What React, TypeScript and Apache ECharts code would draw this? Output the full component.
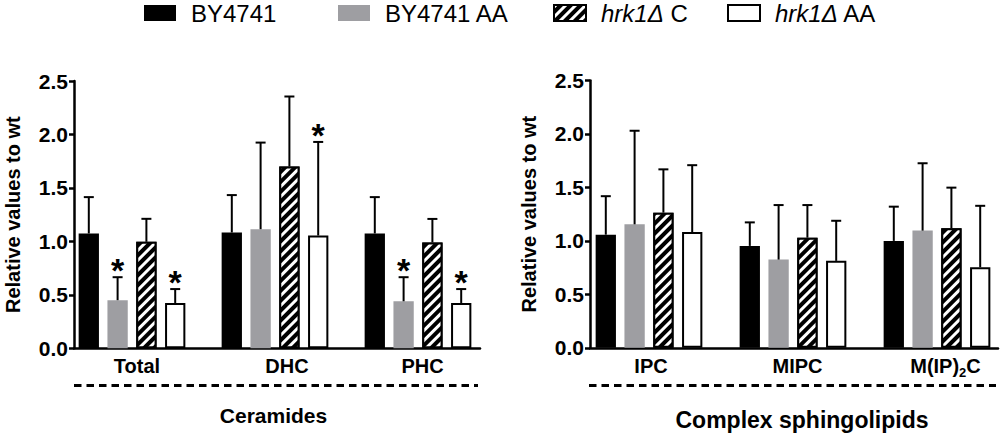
import React, { useEffect, useRef } from "react";
import * as echarts from "echarts";

// ---- data ----
const seriesNames = ["BY4741", "BY4741 AA", "hrk1Δ C", "hrk1Δ AA"];

const catsLeft = ["Total", "DHC", "PHC"];
const catsRight = ["IPC", "MIPC", "M(IP)2C"];

// Ceramides: means
const leftBY = [1.074, 1.083, 1.074];
const leftBYAA = [0.45, 1.114, 0.44];
const leftHrkC = [0.996, 1.7, 0.99];
const leftHrkAA = [0.424, 1.055, 0.424];
// Ceramides: SD (upper error)
const leftBYsd = [0.34, 0.35, 0.34];
const leftBYAAsd = [0.215, 0.81, 0.225];
const leftHrkCsd = [0.215, 0.655, 0.22];
const leftHrkAAsd = [0.13, 0.875, 0.13];
// significance stars
const leftBYstar = [0, 0, 0];
const leftBYAAstar = [1, 0, 1];
const leftHrkCstar = [0, 0, 0];
const leftHrkAAstar = [1, 1, 1];

// Complex sphingolipids: means
const rightBY = [1.058, 0.953, 1.0];
const rightBYAA = [1.155, 0.825, 1.096];
const rightHrkC = [1.264, 1.03, 1.118];
const rightHrkAA = [1.083, 0.813, 0.753];
// SD
const rightBYsd = [0.36, 0.22, 0.32];
const rightBYAAsd = [0.875, 0.51, 0.63];
const rightHrkCsd = [0.405, 0.305, 0.38];
const rightHrkAAsd = [0.625, 0.375, 0.575];
const rightStar = [0, 0, 0];

const yTicksMin = 0;
const yTicksMax = 2.5;
const yTicksStep = 0.5;

// ---- styles ----
const FONT = "'Liberation Sans', Arial, Helvetica, sans-serif";
const BAR_W = 20.3;
const GAP_PX = 8.5;
const GRAY = "#9e9ea2";
// small rightward shifts of category labels (px), as in the original figure
const labelShiftLeft = [5, 12, 4.5];
const labelShiftRight = [2, 4.5, 8.5];

const hatchDecal = {
  symbol: "rect",
  symbolSize: 1,
  color: "#ffffff",
  dashArrayX: [1, 0],
  dashArrayY: [2.8, 3.8],
  rotation: -Math.PI / 4,
};

const barStyles = [
  { color: "#000000", borderColor: "#000000", borderWidth: 0 },
  { color: GRAY, borderColor: GRAY, borderWidth: 0 },
  { color: "#000000", borderColor: "#000000", borderWidth: 2, decal: hatchDecal },
  { color: "#ffffff", borderColor: "#000000", borderWidth: 2 },
];

const legendLeft = [144, 338, 553, 727];

function errorSeries(
  xAxisIndex: number,
  yAxisIndex: number,
  means: number[][],
  sds: number[][],
  stars: number[][]
) {
  const data: number[][] = [];
  means.forEach((arr, k) => {
    arr.forEach((m, c) => {
      data.push([c, k, m, sds[k][c], stars[k][c]]);
    });
  });
  return {
    type: "custom",
    xAxisIndex,
    yAxisIndex,
    z: 5,
    clip: false,
    silent: true,
    encode: { x: 0, y: 2 },
    data,
    renderItem: (params: any, api: any) => {
      const cat = api.value(0);
      const k = api.value(1);
      const mean = api.value(2);
      const sd = api.value(3);
      const star = api.value(4);
      const p0 = api.coord([cat, mean]);
      const p1 = api.coord([cat, mean + sd]);
      const x = p0[0] + (k - 1.5) * (BAR_W + GAP_PX);
      const st = { stroke: "#000", lineWidth: 2 };
      const children: any[] = [
        { type: "line", shape: { x1: x, y1: p0[1], x2: x, y2: p1[1] }, style: st },
        { type: "line", shape: { x1: x - 5, y1: p1[1], x2: x + 5, y2: p1[1] }, style: st },
      ];
      if (star) {
        children.push({
          type: "text",
          x,
          y: p1[1] - 7,
          style: {
            text: "*",
            fontSize: 34,
            fontWeight: "bold",
            fontFamily: FONT,
            fill: "#000",
            align: "center",
            verticalAlign: "middle",
          },
        });
      }
      return { type: "group", children };
    },
  };
}

export default function App() {
  const ref = useRef<HTMLDivElement>(null);

  useEffect(() => {
    if (!ref.current) return;
    const chart = echarts.init(ref.current, null, { renderer: "svg" });

    const leftMeans = [leftBY, leftBYAA, leftHrkC, leftHrkAA];
    const leftSds = [leftBYsd, leftBYAAsd, leftHrkCsd, leftHrkAAsd];
    const leftStars = [leftBYstar, leftBYAAstar, leftHrkCstar, leftHrkAAstar];
    const rightMeans = [rightBY, rightBYAA, rightHrkC, rightHrkAA];
    const rightSds = [rightBYsd, rightBYAAsd, rightHrkCsd, rightHrkAAsd];
    const rightStars = [rightStar, rightStar, rightStar, rightStar];

    const barGap = ((GAP_PX / BAR_W) * 100).toFixed(1) + "%";

    const bars = (means: number[][], xi: number, yi: number) =>
      means.map((vals, k) => ({
        type: "bar",
        name: seriesNames[k],
        xAxisIndex: xi,
        yAxisIndex: yi,
        barWidth: BAR_W,
        barGap,
        data: vals,
        itemStyle: barStyles[k],
        silent: true,
      }));

    const labelStyle = { fontSize: 20, fontWeight: "bold", color: "#000", fontFamily: FONT };

    const hiddenCatAxis = (gridIndex: number, data: string[], shifts: number[]) => {
      const rich: any = {
        t: { ...labelStyle },
        sub: {
          fontSize: 13,
          fontWeight: "bold",
          color: "#000",
          fontFamily: FONT,
          verticalAlign: "top",
          padding: [10, 0, 0, 0],
          lineHeight: 13,
        },
      };
      shifts.forEach((s, i) => {
        rich["s" + i] = { ...labelStyle, width: s * 2 };
      });
      return {
        gridIndex,
        type: "category",
        data,
        axisLine: { show: false },
        axisTick: { show: false },
        axisLabel: {
          interval: 0,
          hideOverlap: false,
          ...labelStyle,
          margin: 8,
          formatter: (v: string, idx: number) => {
            const body = v === "M(IP)2C" ? "{t|M(IP)}{sub|2}{t|C}" : "{t|" + v + "}";
            return "{s" + idx + "| }" + body;
          },
          rich,
        },
        splitLine: { show: false },
      };
    };

    const lineCatAxis = (gridIndex: number, data: string[]) => ({
      gridIndex,
      type: "category",
      data,
      axisLine: { show: true, lineStyle: { color: "#000", width: 2.5 } },
      axisTick: { show: false },
      axisLabel: { show: false },
      splitLine: { show: false },
    });

    const hiddenValAxis = (gridIndex: number) => ({
      gridIndex,
      type: "value",
      min: yTicksMin,
      max: yTicksMax,
      interval: yTicksStep,
      show: false,
    });

    const valAxis = (gridIndex: number) => ({
      gridIndex,
      type: "value",
      min: yTicksMin,
      max: yTicksMax,
      interval: yTicksStep,
      axisLine: { show: true, lineStyle: { color: "#000", width: 2.5 } },
      axisTick: { show: true, length: 5, lineStyle: { color: "#000", width: 2.5 } },
      axisLabel: {
        fontSize: 21,
        fontWeight: "bold",
        color: "#000",
        fontFamily: FONT,
        margin: 6,
        padding: [6, 0, 0, 0],
        formatter: (v: number) => v.toFixed(1),
      },
      splitLine: { show: false },
      name: "Relative values to wt",
      nameLocation: "middle",
      nameGap: 51,
      nameTextStyle: {
        fontSize: 20,
        lineHeight: 20,
        fontWeight: "bold",
        color: "#000",
        fontFamily: FONT,
      },
    });

    const legends = seriesNames.map((name, i) => ({
      data: [name],
      left: legendLeft[i],
      top: 1,
      padding: 0,
      itemGap: 0,
      itemWidth: 32,
      itemHeight: 16,
      icon: "rect",
      selectedMode: false,
      formatter: (n: string) => (n.startsWith("hrk1Δ") ? "{i|hrk1Δ}" + n.slice(5) : n),
      textStyle: {
        fontSize: 24,
        color: "#000",
        fontFamily: FONT,
        padding: [0, 0, 0, 10],
        rich: {
          i: { fontSize: 24, fontStyle: "italic", color: "#000", fontFamily: FONT },
        },
      },
    }));

    const option: any = {
      animation: false,
      backgroundColor: "#ffffff",
      textStyle: { fontFamily: FONT },
      legend: legends,
      grid: [
        { left: 60.5, top: 81, width: 429, height: 267.3, outerBoundsMode: "none", containLabel: false },
        { left: 74, top: 81, width: 406, height: 267.3, outerBoundsMode: "none", containLabel: false },
        { left: 577, top: 80.5, width: 432, height: 267.3, outerBoundsMode: "none", containLabel: false },
        { left: 590, top: 80.5, width: 408, height: 267.3, outerBoundsMode: "none", containLabel: false },
      ],
      xAxis: [
        hiddenCatAxis(0, catsLeft, labelShiftLeft),
        lineCatAxis(1, catsLeft),
        hiddenCatAxis(2, catsRight, labelShiftRight),
        lineCatAxis(3, catsRight),
      ],
      yAxis: [hiddenValAxis(0), valAxis(1), hiddenValAxis(2), valAxis(3)],
      series: [
        ...bars(leftMeans, 0, 0),
        errorSeries(0, 0, leftMeans, leftSds, leftStars),
        ...bars(rightMeans, 2, 2),
        errorSeries(2, 2, rightMeans, rightSds, rightStars),
      ],
      graphic: [
        {
          type: "line",
          shape: { x1: 74, y1: 385.5, x2: 478, y2: 385.5 },
          style: { stroke: "#000", lineWidth: 3, lineDash: [7.5, 5] },
        },
        {
          type: "line",
          shape: { x1: 589, y1: 385.5, x2: 996, y2: 385.5 },
          style: { stroke: "#000", lineWidth: 3, lineDash: [7.5, 5] },
        },
        {
          type: "text",
          x: 273.5,
          y: 415,
          style: {
            text: "Ceramides",
            fontSize: 21,
            fontWeight: "bold",
            fontFamily: FONT,
            fill: "#000",
            align: "center",
            verticalAlign: "middle",
          },
        },
        {
          type: "text",
          x: 802,
          y: 420,
          style: {
            text: "Complex sphingolipids",
            fontSize: 23,
            fontWeight: "bold",
            fontFamily: FONT,
            fill: "#000",
            align: "center",
            verticalAlign: "middle",
          },
        },
      ],
    };

    chart.setOption(option);
    return () => chart.dispose();
  }, []);

  return (
    <div
      ref={ref}
      style={{ position: "absolute", left: 0, top: 0, width: 1000, height: 437, background: "#fff" }}
    />
  );
}
